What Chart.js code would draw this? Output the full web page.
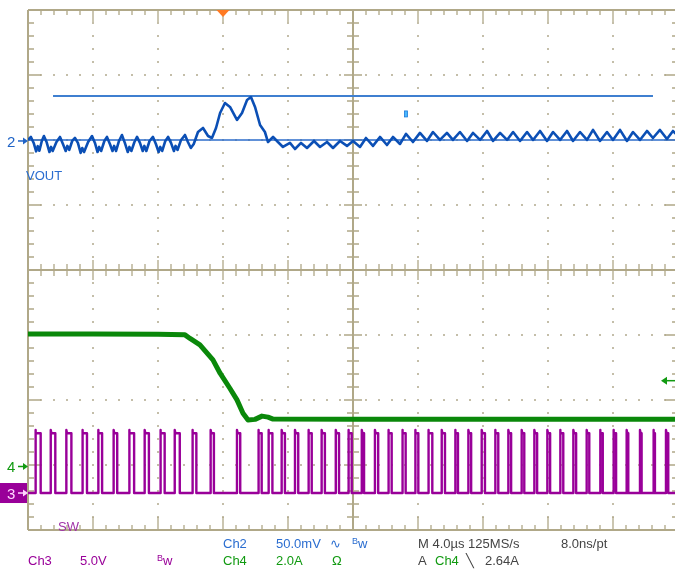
<!DOCTYPE html>
<html><head><meta charset="utf-8">
<script src="https://cdn.jsdelivr.net/npm/chart.js@4.4.1/dist/chart.umd.min.js"></script>
<style>html,body{margin:0;padding:0;background:#fff;overflow:hidden}#wrap{width:675px;height:575px}</style>
</head><body><div id="wrap"><canvas id="c" width="675" height="575"></canvas></div>
<script>
// ---- Time base (µs) ----
const timeMin = -12;          // left edge of screen, trigger at 0
const timeMax = 27.815;       // visible right edge
const timePerDiv = 4;         // M 4.0µs
const vertDivs = 4;           // ±4 divisions

// ---- Ch2 VOUT (AC, mV relative to channel marker), 50 mV/div ----
const ch2Scale = 50;
const ch2Pos = 1.985;
const voutTime = [-12.00,-11.82,-11.65,-11.50,-11.40,-11.30,-11.15,-11.02,-10.85,-10.68,-10.58,-10.48,-10.25,-10.03,-9.85,-9.68,-9.58,-9.46,-9.28,-9.11,-8.93,-8.76,-8.66,-8.55,-8.30,-8.06,-7.88,-7.72,-7.62,-7.50,-7.30,-7.14,-6.96,-6.80,-6.70,-6.58,-6.40,-6.22,-6.04,-5.86,-5.76,-5.64,-5.45,-5.29,-5.11,-4.94,-4.84,-4.72,-4.52,-4.31,-4.13,-3.96,-3.86,-3.74,-3.55,-3.38,-3.20,-3.02,-2.92,-2.80,-2.58,-2.34,-2.16,-1.98,-1.80,
  -1.54,-1.23,-0.92,-0.68,-0.43,-0.18,0.12,0.43,0.86,1.17,1.48,1.72,1.97,2.28,2.58,2.77,3.08,3.38,3.69,4.12,4.43,4.80,5.17,5.60,5.97,6.40,6.77,7.20,7.63,8.00,8.43,8.80,9.23,9.66,10.09,10.46,10.89,11.26,11.69,12.12,12.55,12.92,13.35,13.78,14.15,14.58,15.02,15.38,15.82,16.25,16.62,17.05,17.48,17.85,18.28,18.71,19.08,19.51,19.94,20.31,20.74,21.17,21.54,21.97,22.40,22.77,23.20,23.63,24.00,24.43,24.86,25.23,25.66,26.09,26.46,26.89,27.32,27.69,28.0];
const voutMv = [0.8,3.1,-1.5,-8.0,-4.0,-7.5,0.0,3.8,-1.0,-8.5,-4.6,-7.7,-0.8,3.1,-2.3,-7.7,-3.8,-6.9,0.0,2.3,-1.5,-9.2,-5.4,-8.5,-0.8,3.8,-1.5,-8.5,-4.6,-7.7,0.0,3.1,-2.3,-7.7,-3.8,-7.7,0.0,4.6,-1.5,-8.5,-4.6,-7.7,-0.8,3.1,-1.5,-7.7,-3.8,-7.7,0.0,3.1,-2.3,-8.5,-4.6,-7.7,0.0,3.1,-1.5,-7.7,-3.8,-6.9,0.8,4.6,-0.8,-5.4,-2.3,
  6.9,10.0,3.8,2.3,10.0,21.5,29.2,26.2,16.2,21.5,31.5,33.8,26.2,12.3,6.9,-0.8,3.1,-0.8,-4.6,-1.5,-6.2,-1.5,-5.4,0,-4.6,-0.8,-5.4,0,-3.8,0,-4.6,2.3,-3.8,3.1,-3.1,3.1,-2.3,5.4,-0.8,6.2,0,6.9,0.8,6.2,0.8,6.9,0,6.2,0.8,7.7,0,6.2,0.8,6.9,0,6.9,0.8,7.7,0,6.9,0.8,7.7,0,6.9,0.8,8.5,0,6.9,0.8,8.5,0,6.9,0.8,7.7,2.3,8.5,1.5,7.7,3.8];
// horizontal cursors (mV) and their time extents
const cursorMv = [34.6, 0.8];
const cursorStart = [-10.46, -12];
const cursorEnd = [26.46, 28];
const cursorMarkTime = 11.26, cursorMarkMv = 20.8;

// ---- Ch4 current (A), 2.0 A/div ----
const ch4Scale = 2;
const ch4Pos = -3.023;
const ampTime = [-12,-8,-4,-2.34,-2.03,-1.42,-0.62,-0.18,0.43,0.86,1.23,1.54,1.97,2.40,2.77,3.08,8,16,28];
const ampA =    [4.08,4.08,4.07,4.05,3.94,3.74,3.28,2.87,2.40,2.05,1.64,1.43,1.45,1.55,1.52,1.46,1.45,1.45,1.45];
const trigLevelA = 2.64;

// ---- Ch3 SW node (V), 5.0 V/div ----
const ch3Scale = 5;
const ch3Pos = -3.431;
const swHighV = 4.6, swPeakV = 4.85;
const swRise = [-11.55,-10.60,-9.64,-8.66,-7.69,-6.73,-5.78,-4.82,-3.86,-2.97,-1.89,-0.76,0.86,2.17,2.79,3.61,4.43,5.25,6.07,6.94,7.71,8.54,9.35,10.17,11.03,11.82,12.63,13.46,14.28,15.10,15.92,16.74,17.56,18.38,19.16,19.96,20.74,21.56,22.38,23.20,24.02,24.84,25.66,26.48,27.26];
const swWidth = [0.33,0.28,0.31,0.29,0.25,0.22,0.31,0.26,0.27,0.31,0.25,0.20,0.20,0.21,0.25,0.20,0.20,0.21,0.20,0.20,0.21,0.14,0.20,0.21,0.21,0.20,0.25,0.20,0.18,0.17,0.20,0.20,0.17,0.16,0.17,0.17,0.20,0.17,0.16,0.17,0.17,0.10,0.10,0.10,0.14];

// ---- build library data ----
const voutData = voutTime.map((t,i)=>({x:t, y:ch2Pos + voutMv[i]/ch2Scale}));
const ampData = ampTime.map((t,i)=>({x:t, y:ch4Pos + ampA[i]/ch4Scale}));
const swData = [{x:timeMin, y:ch3Pos}];
swRise.forEach((r,i)=>{
  const w = swWidth[i];
  swData.push({x:r,y:ch3Pos},{x:r,y:ch3Pos+swPeakV/ch3Scale},{x:r+0.04,y:ch3Pos+swHighV/ch3Scale},
              {x:r+w,y:ch3Pos+swHighV/ch3Scale},{x:r+w,y:ch3Pos});
});
swData.push({x:28,y:ch3Pos});
const cursorData = cursorMv.map((mv,i)=>[{x:cursorStart[i],y:ch2Pos+mv/ch2Scale},{x:cursorEnd[i],y:ch2Pos+mv/ch2Scale}]);

const GRAT = '#b0a888', DOT = '#c4bea9';
const BLUE = '#0b4fb5', GREEN = '#0a880a', PURPLE = '#990099';

const graticule = {
  id:'graticule',
  beforeDatasetsDraw(chart){
    const {ctx, scales:{x,y}} = chart;
    const X=v=>x.getPixelForValue(v), Y=v=>y.getPixelForValue(v);
    const L=X(-12), R=X(28), T=Y(4), B=Y(-4), CX=X(8), CY=Y(0);
    ctx.save();
    ctx.fillStyle = DOT;
    for(let i=1;i<10;i++){ if(i===5) continue; const gx=Math.round(X(-12+4*i));
      for(let j=1;j<40;j++){ const gy=Math.round(Y(-4+j*0.2)); ctx.fillRect(gx-1,gy-1,2,2);} }
    for(let j=1;j<8;j++){ if(j===4) continue; const gy=Math.round(Y(-4+j));
      for(let i=1;i<50;i++){ const gx=Math.round(X(-12+i*0.8)); ctx.fillRect(gx-1,gy-1,2,2);} }
    ctx.strokeStyle = GRAT; ctx.lineWidth = 2;
    ctx.beginPath();
    ctx.moveTo(L,T); ctx.lineTo(R,T); ctx.moveTo(L,B); ctx.lineTo(R,B);
    ctx.moveTo(L,T); ctx.lineTo(L,B); ctx.moveTo(R,T); ctx.lineTo(R,B);
    ctx.moveTo(CX,T); ctx.lineTo(CX,B); ctx.moveTo(L,CY); ctx.lineTo(R,CY);
    ctx.stroke();
    ctx.lineWidth = 1.3;
    ctx.beginPath();
    for(let i=1;i<50;i++){ const gx=Math.round(X(-12+i*0.8)); const major=(i%5===0);
      ctx.moveTo(gx,T); ctx.lineTo(gx,T+(major?12:5));
      ctx.moveTo(gx,B); ctx.lineTo(gx,B-(major?13:5));
      ctx.moveTo(gx,CY-(major?10:6)); ctx.lineTo(gx,CY+(major?10:6)); }
    for(let j=1;j<40;j++){ const gy=Math.round(Y(-4+j*0.2)); const major=(j%5===0);
      ctx.moveTo(L,gy); ctx.lineTo(L+(major?13:6),gy);
      ctx.moveTo(R,gy); ctx.lineTo(R-(major?13:6),gy);
      ctx.moveTo(CX-(major?9:6),gy); ctx.lineTo(CX+(major?9:6),gy); }
    ctx.stroke();
    ctx.restore();
  }
};

const labels = {
  id:'labels',
  afterDraw(chart){
    const {ctx, scales:{x,y}} = chart;
    const X=v=>x.getPixelForValue(v), Y=v=>y.getPixelForValue(v);
    const F = s => s+'px "Liberation Sans", Arial, sans-serif';
    ctx.save();
    ctx.textBaseline='alphabetic';
    const tx = X(0), T=Y(4);
    ctx.fillStyle='#ff7a22';
    ctx.beginPath(); ctx.moveTo(tx-6.5,T); ctx.lineTo(tx+6.5,T); ctx.lineTo(tx,T+7); ctx.closePath(); ctx.fill();
    const arrow=(y0,col)=>{ ctx.strokeStyle=col; ctx.fillStyle=col; ctx.lineWidth=1.5;
      ctx.beginPath(); ctx.moveTo(18,y0); ctx.lineTo(25,y0); ctx.stroke();
      ctx.beginPath(); ctx.moveTo(23,y0-3.5); ctx.lineTo(28,y0); ctx.lineTo(23,y0+3.5); ctx.closePath(); ctx.fill(); };
    const y2=Y(ch2Pos), y4=Y(ch4Pos), y3=Y(ch3Pos);
    ctx.font=F(15);
    ctx.fillStyle='#1f63c6'; ctx.fillText('2',7,y2+6); arrow(y2,'#1f63c6');
    ctx.fillStyle='#119a11'; ctx.fillText('4',7,y4+6); arrow(y4,'#119a11');
    ctx.fillStyle=PURPLE; ctx.fillRect(0,y3-10,27,20);
    ctx.fillStyle='#ffd6ff'; ctx.fillText('3',7,y3+6); arrow(y3,'#ffd6ff');
    const yt=Y(ch4Pos+trigLevelA/ch4Scale);
    ctx.strokeStyle='#119a11'; ctx.fillStyle='#119a11'; ctx.lineWidth=1.5;
    ctx.beginPath(); ctx.moveTo(666,yt); ctx.lineTo(675,yt); ctx.stroke();
    ctx.beginPath(); ctx.moveTo(661,yt); ctx.lineTo(667,yt-4); ctx.lineTo(667,yt+4); ctx.closePath(); ctx.fill();
    const mx=X(cursorMarkTime), my=Y(ch2Pos+cursorMarkMv/ch2Scale);
    ctx.fillStyle='#48b8ff'; ctx.fillRect(mx-1.5,my-3,3,6);
    ctx.strokeStyle='#1d78d8'; ctx.lineWidth=0.8; ctx.strokeRect(mx-1.5,my-3,3,6);
    ctx.font=F(13);
    ctx.fillStyle='#2a6dd0'; ctx.fillText('VOUT',26,180);
    ctx.fillStyle='#a033a8'; ctx.fillText('SW',58,531);
    const bw=(x0,yb,col)=>{ ctx.fillStyle=col; ctx.font=F(9); ctx.fillText('B',x0,yb-4); ctx.font=F(13); ctx.fillText('w',x0+6,yb); };
    ctx.font=F(13);
    ctx.fillStyle='#2a6dd0'; ctx.fillText('Ch2',223,548); ctx.fillText('50.0mV',276,548);
    ctx.fillText('\u223F',330,548); bw(352,548,'#2a6dd0');
    ctx.font=F(13);
    ctx.fillStyle='#444'; ctx.fillText('M 4.0\u00B5s 125MS/s',418,548); ctx.fillText('8.0ns/pt',561,548);
    ctx.fillStyle='#119a11'; ctx.fillText('Ch4',223,565); ctx.fillText('2.0A',276,565); ctx.fillText('\u03A9',332,565);
    ctx.fillStyle='#444'; ctx.fillText('A',418,565);
    ctx.fillStyle='#119a11'; ctx.fillText('Ch4',435,565);
    ctx.fillStyle='#444'; ctx.fillText('\u2572',466,565); ctx.fillText('2.64A',485,565);
    ctx.fillStyle=PURPLE; ctx.fillText('Ch3',28,565); ctx.fillText('5.0V',80,565); bw(157,565,PURPLE);
    ctx.restore();
  }
};

new Chart(document.getElementById('c'), {
  type:'scatter',
  data:{datasets:[
    {label:'VOUT', data:voutData, showLine:true, borderColor:BLUE, borderWidth:2.6},
    {label:'SW', data:swData, showLine:true, borderColor:PURPLE, borderWidth:2.4},
    {label:'IL', data:ampData, showLine:true, borderColor:GREEN, borderWidth:5},
    {label:'Cursor 1', data:cursorData[0], showLine:true, borderColor:'#3f7fd0', borderWidth:2.2},
    {label:'Cursor 2', data:cursorData[1], showLine:true, borderColor:'#2d6ccb', borderWidth:1.5}
  ]},
  options:{
    responsive:false, animation:false, events:[], devicePixelRatio:1,
    layout:{padding:{left:28, top:10, right:0, bottom:45}},
    elements:{point:{radius:0}, line:{tension:0, borderJoinStyle:'round', borderCapStyle:'butt'}},
    plugins:{legend:{display:false}, tooltip:{enabled:false}},
    scales:{
      x:{type:'linear', display:false, min:timeMin, max:timeMax, ticks:{stepSize:timePerDiv}},
      y:{type:'linear', display:false, min:-vertDivs, max:vertDivs, ticks:{stepSize:1}}
    }
  },
  plugins:[graticule, labels]
});
</script></body></html>
